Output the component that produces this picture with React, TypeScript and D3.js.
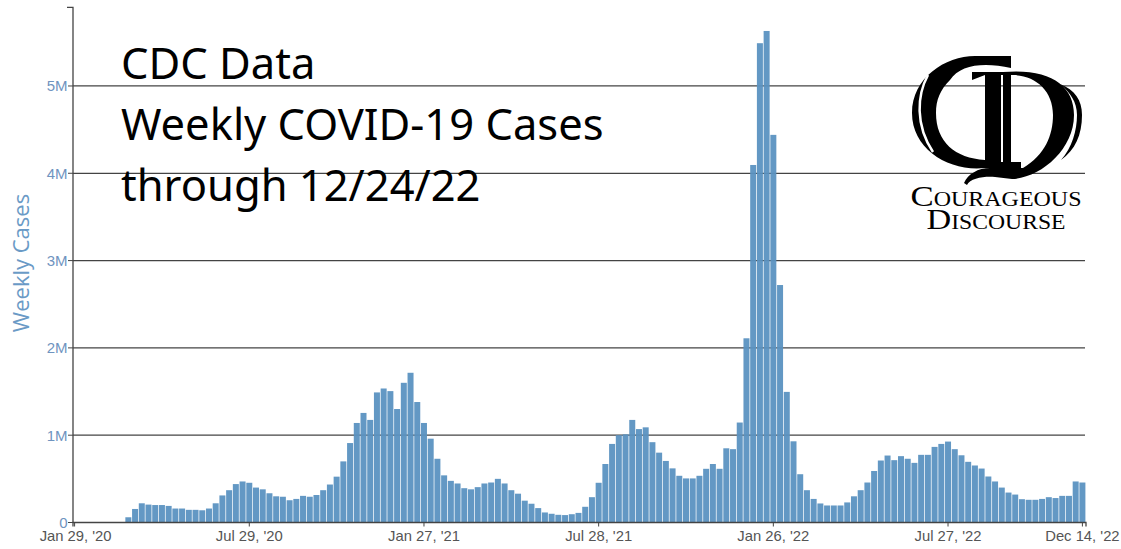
import React from "react";
import * as d3 from "d3";

const weeklyCases: number[] = [
  0, 0, 0, 0, 0, 0, 0, 0.005, 0.06, 0.155, 0.22, 0.205, 0.2, 0.2, 0.19, 0.16, 0.16, 0.145, 0.145, 0.14,
  0.16, 0.22, 0.31, 0.37, 0.44, 0.47, 0.455, 0.4, 0.38, 0.335, 0.3, 0.295, 0.255, 0.27, 0.305, 0.295, 0.315, 0.37, 0.435, 0.525,
  0.7, 0.91, 1.14, 1.255, 1.175, 1.49, 1.535, 1.505, 1.3, 1.6, 1.715, 1.38, 1.14, 0.96, 0.73, 0.54, 0.477, 0.447, 0.393, 0.38,
  0.405, 0.447, 0.458, 0.5, 0.447, 0.37, 0.33, 0.25, 0.215, 0.165, 0.115, 0.1, 0.088, 0.085, 0.095, 0.11, 0.18, 0.29, 0.455, 0.67,
  0.9, 1.0, 1.01, 1.175, 1.07, 1.09, 0.92, 0.8, 0.705, 0.62, 0.535, 0.505, 0.505, 0.535, 0.615, 0.67, 0.615, 0.85, 0.84, 1.145,
  2.11, 4.095, 5.49, 5.63, 4.44, 2.72, 1.496, 0.93, 0.553, 0.37, 0.27, 0.218, 0.195, 0.195, 0.195, 0.23, 0.3, 0.37, 0.458, 0.59,
  0.71, 0.767, 0.714, 0.76, 0.73, 0.683, 0.775, 0.775, 0.866, 0.9, 0.927, 0.84, 0.77, 0.695, 0.653, 0.618, 0.527, 0.47, 0.4, 0.343,
  0.32, 0.267, 0.26, 0.26, 0.27, 0.29, 0.28, 0.305, 0.305, 0.47, 0.458,
];
const yTickValues = [0, 1, 2, 3, 4, 5];
const yTickLabels = ["0", "1M", "2M", "3M", "4M", "5M"];
const xTickIndex = [0, 26, 52, 78, 104, 130, 150];
const xTickLabels = ["Jan 29, '20", "Jul 29, '20", "Jan 27, '21", "Jul 28, '21", "Jan 26, '22", "Jul 27, '22", "Dec 14, '22"];
const titleLines = ["CDC Data", "Weekly COVID-19 Cases", "through 12/24/22"];
const logoLines = ["Courageous", "Discourse"];

const x = d3.scaleLinear().domain([0, 150]).range([74.6, 1082.4]);
const y = d3.scaleLinear().domain([0, 5.9]).range([522.5, 7.4]);
const barWidth = 6;
const ink = "#444";

function Logo() {
  return (
    <g>
      <g fill="#000">
        <path d="M1011,56 L1011,68 C985,62 960,64 950,80 C940,90 936,100 936,113 C936,142 955,158 985,160 L985,168 C950,172 912,150 912,113 C912,78 945,56 975,56 Z" />
        <path d="M972,72 H1003 C1050,68 1074,85 1074,115 C1074,150 1040,178 1012,179 L995,177 C985,176 970,178 967,185 L964,183 C968,174 978,168 990,168 H1023 C1045,155 1053,135 1053,115 C1053,90 1035,75 1012,75 H985 L972,80 Z" />
        <path d="M985,75 H1001 V165 H985 Z M1003,75 H1011 V165 H1003 Z" />
        <path d="M973,162 H1021 V168 H973 Z" />
        <path d="M1060,84 C1075,90 1082,100 1082,115 C1082,135 1075,150 1061,160 C1072,148 1077,130 1077,115 C1077,102 1070,92 1060,84 Z" />
      </g>
      <path d="M928,75 C917,95 915,125 933,152" fill="none" stroke="#fff" strokeWidth={2.5} />
      <text x={996} y={206} textAnchor="middle" fontFamily="'Liberation Serif', serif" fontSize={29} fontVariant="small-caps" textLength={171} lengthAdjust="spacingAndGlyphs">{logoLines[0]}</text>
      <text x={996} y={229} textAnchor="middle" fontFamily="'Liberation Serif', serif" fontSize={29} fontVariant="small-caps" textLength={139} lengthAdjust="spacingAndGlyphs">{logoLines[1]}</text>
    </g>
  );
}

export default function App() {
  return (
    <svg width={1121} height={549} style={{ position: "absolute", left: 0, top: 0, background: "#fff" }}>
      {yTickValues.filter((v) => v > 0).map((v) => (
        <line key={v} x1={73} x2={1085} y1={y(v)} y2={y(v)} stroke={ink} strokeWidth={1.3} />
      ))}
      {weeklyCases.map((v, i) => (
        <rect key={i} x={x(i) - barWidth / 2} y={y(v)} width={barWidth} height={y(0) - y(v)} fill="#5b92c1" fillOpacity={0.95} />
      ))}
      <path d={`M67,${y(5.9)}H73V${y(0)}`} fill="none" stroke={ink} strokeWidth={1.3} />
      <path d={`M73,${y(0) + 4}V${y(0)}H1086V${y(0) + 4}`} fill="none" stroke={ink} strokeWidth={1.3} />
      {yTickValues.map((v, i) => (
        <g key={v}>
          <line x1={68} x2={73} y1={y(v)} y2={y(v)} stroke={ink} strokeWidth={1} />
          <text x={67.5} y={y(v) + 5.5} textAnchor="end" fontFamily="'Liberation Sans', Arial, sans-serif" fontSize={15} fill="#6f94c0">{yTickLabels[i]}</text>
        </g>
      ))}
      {xTickIndex.map((t, i) => (
        <g key={t}>
          <line x1={x(t)} x2={x(t)} y1={y(0)} y2={y(0) + 4} stroke={ink} strokeWidth={1} />
          <text x={x(t) + (i === 0 ? 1 : 0)} y={541} textAnchor="middle" fontFamily="'Liberation Sans', Arial, sans-serif" fontSize={14.8} fill="#555">{xTickLabels[i]}</text>
        </g>
      ))}
      <text transform="translate(29,263) rotate(-90)" textAnchor="middle" fontFamily="'Open Sans', sans-serif" fontSize={22} fill="#6a9ac6">Weekly Cases</text>
      {titleLines.map((t, i) => (
        <text key={t} x={121} y={79 + i * 61} fontFamily="'Noto Sans', sans-serif" fontSize={43.5} fill="#000">{t}</text>
      ))}
      <Logo />
    </svg>
  );
}
